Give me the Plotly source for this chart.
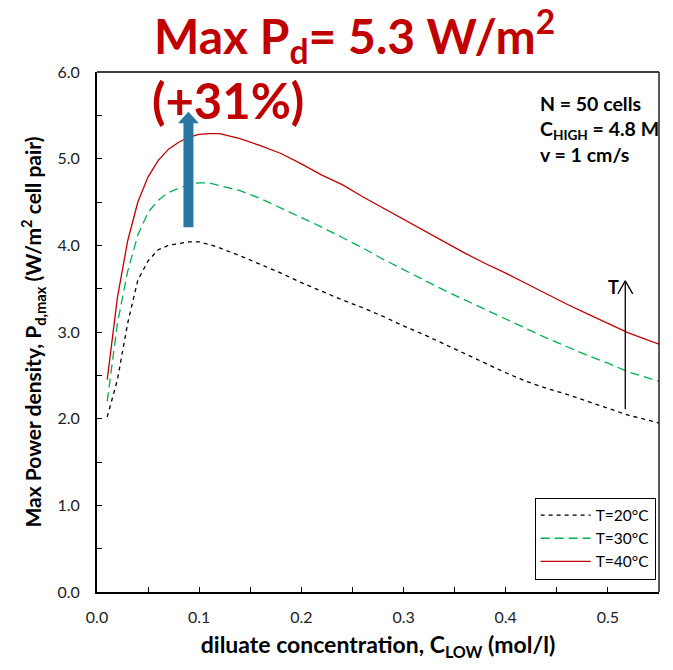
import plotly.graph_objects as go

# Diluate concentration (mol/l)
c_low = [0.01, 0.02, 0.03, 0.04, 0.05, 0.06, 0.07, 0.08, 0.09, 0.10, 0.11, 0.12,
         0.14, 0.16, 0.18, 0.20, 0.22, 0.24, 0.26, 0.28, 0.30, 0.32, 0.34, 0.36,
         0.38, 0.40, 0.42, 0.44, 0.46, 0.48, 0.50, 0.52, 0.55]

# Max power density (W/m2 cell pair) per temperature
p_20 = [2.02, 2.45, 3.10, 3.60, 3.82, 3.95, 4.00, 4.02, 4.04, 4.04, 4.01, 3.97,
        3.88, 3.78, 3.68, 3.57, 3.47, 3.37, 3.28, 3.18, 3.07, 2.97, 2.86, 2.75,
        2.64, 2.53, 2.43, 2.35, 2.28, 2.20, 2.12, 2.04, 1.95]
p_30 = [2.20, 3.10, 3.70, 4.12, 4.38, 4.52, 4.61, 4.66, 4.70, 4.72, 4.72, 4.69,
        4.63, 4.54, 4.43, 4.32, 4.21, 4.09, 3.97, 3.84, 3.72, 3.60, 3.48, 3.37,
        3.26, 3.15, 3.04, 2.93, 2.83, 2.73, 2.64, 2.54, 2.43]
p_40 = [2.45, 3.40, 4.05, 4.50, 4.79, 4.98, 5.11, 5.19, 5.25, 5.28, 5.29, 5.29,
        5.23, 5.15, 5.06, 4.94, 4.81, 4.70, 4.56, 4.43, 4.30, 4.17, 4.04, 3.91,
        3.79, 3.68, 3.56, 3.44, 3.32, 3.21, 3.10, 2.99, 2.86]

series_names = ["T=20°C", "T=30°C", "T=40°C"]
x_ticks = [0.0, 0.1, 0.2, 0.3, 0.4, 0.5]
y_ticks = [0.0, 1.0, 2.0, 3.0, 4.0, 5.0, 6.0]

FONT = "Lato"
DARK_RED = "#C00000"

fig = go.Figure()
fig.add_trace(go.Scatter(x=c_low, y=p_20, name=series_names[0], mode="lines",
                         line=dict(color="black", width=1.3, dash="4px,4px")))
fig.add_trace(go.Scatter(x=c_low, y=p_30, name=series_names[1], mode="lines",
                         line=dict(color="#00B050", width=1.3, dash="9px,5px")))
fig.add_trace(go.Scatter(x=c_low, y=p_40, name=series_names[2], mode="lines",
                         line=dict(color=DARK_RED, width=1.3)))

# Thick blue arrow pointing at the peak
ax0, tip, base, bottom, sh, hh = 0.0895, 5.54, 5.41, 4.21, 0.0049, 0.0103
arrow_path = (f"M {ax0-sh},{bottom} L {ax0-sh},{base} L {ax0-hh},{base} "
              f"L {ax0},{tip} L {ax0+hh},{base} L {ax0+sh},{base} L {ax0+sh},{bottom} Z")

# Temperature direction arrow
tx, ty0, ty1, hdx, hdy = 0.517, 2.11, 3.59, 0.0073, 0.15

shapes = [
    dict(type="path", path=arrow_path, xref="x", yref="y",
         fillcolor="#2A77A4", line=dict(width=0)),
    dict(type="line", xref="x", yref="y", x0=tx, x1=tx, y0=ty0, y1=ty1,
         line=dict(color="black", width=1.3)),
    dict(type="line", xref="x", yref="y", x0=tx - hdx, x1=tx, y0=ty1 - hdy, y1=ty1,
         line=dict(color="black", width=1.3)),
    dict(type="line", xref="x", yref="y", x0=tx + hdx, x1=tx, y0=ty1 - hdy, y1=ty1,
         line=dict(color="black", width=1.3)),
    # top and right frame
    dict(type="line", xref="paper", yref="paper", x0=0, x1=1, y0=1, y1=1,
         line=dict(color="black", width=1.3)),
    dict(type="line", xref="paper", yref="paper", x0=1, x1=1, y0=0, y1=1,
         line=dict(color="black", width=1.3)),
]

annotations = [
    dict(text="<b>Max P<sub>d</sub>= 5.3 W/m<sup>2</sup></b>", xref="paper", yref="paper",
         x=0.458, y=1.0, xanchor="center", yanchor="bottom", yshift=-1, showarrow=False,
         font=dict(family=FONT, size=48, color=DARK_RED)),
    dict(text="<b>(+31%)</b>", xref="x", yref="y", x=0.052, y=5.68, xanchor="left",
         yanchor="middle", showarrow=False,
         font=dict(family=FONT, size=49, color=DARK_RED)),
    dict(text="<b>N = 50 cells<br>C<sub>HIGH</sub> = 4.8 M<br>v = 1 cm/s</b>",
         xref="paper", yref="paper", x=0.785, y=0.965, xanchor="left", yanchor="top",
         align="left", showarrow=False,
         font=dict(family=FONT, size=19.5, color="black")),
    dict(text="<b>T</b>", xref="x", yref="y", x=tx - 0.004, y=3.52, xanchor="right",
         yanchor="middle", showarrow=False,
         font=dict(family=FONT, size=18, color="black")),
]

fig.update_layout(
    width=673, height=670,
    margin=dict(l=97, r=14, t=72, b=78),
    paper_bgcolor="white", plot_bgcolor="white",
    font=dict(family=FONT, size=16, color="#222"),
    shapes=shapes, annotations=annotations,
    legend=dict(x=0.994, y=0.024, xanchor="right", yanchor="bottom",
                bgcolor="white", bordercolor="black", borderwidth=1,
                font=dict(family=FONT, size=15.5, color="black"),
                tracegroupgap=0, itemwidth=50),
    xaxis=dict(range=[0, 0.55], tickvals=x_ticks, tickformat=".1f",
               showgrid=False, zeroline=False, showline=True, linecolor="black",
               linewidth=2, ticks="inside", ticklen=5, tickcolor="black",
               ticklabelstandoff=10,
               minor=dict(dtick=0.05, ticks="inside", ticklen=5, tickcolor="black", showgrid=False),
               title=dict(text="<b>diluate concentration, C<sub>LOW</sub> (mol/l)</b>",
                          font=dict(family=FONT, size=23, color="black"), standoff=12)),
    yaxis=dict(range=[0, 6], tickvals=y_ticks, tickformat=".1f",
               showgrid=False, zeroline=False, showline=True, linecolor="black",
               linewidth=2, ticks="inside", ticklen=5, tickcolor="black",
               ticklabelstandoff=12,
               minor=dict(dtick=0.5, ticks="inside", ticklen=5, tickcolor="black", showgrid=False),
               title=dict(text="<b>Max Power density, P<sub>d,max</sub> (W/m<sup>2</sup> cell pair)</b>",
                          font=dict(family=FONT, size=21, color="black"), standoff=10)),
)

fig.write_html("out.html")
